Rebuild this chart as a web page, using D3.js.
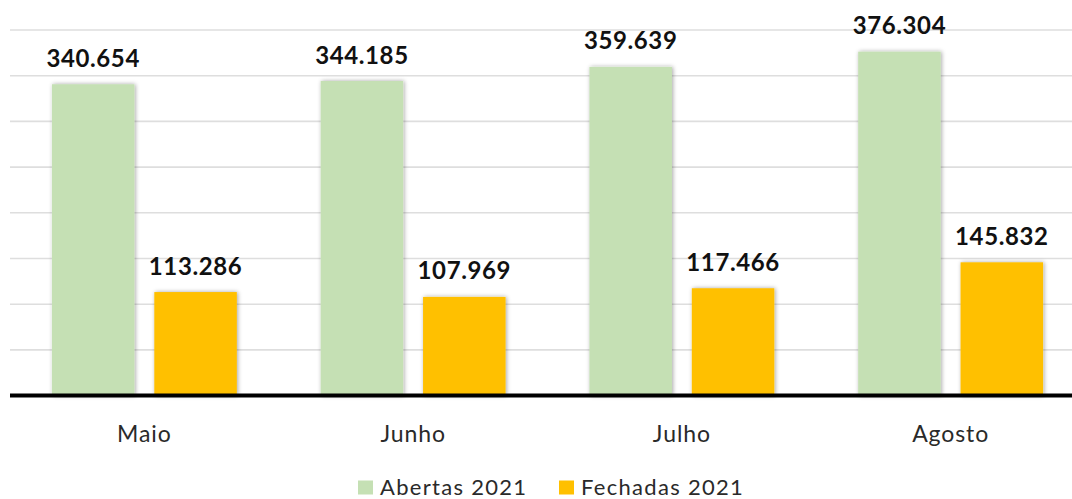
<!DOCTYPE html>
<html>
<head>
<meta charset="utf-8">
<script src="https://cdn.jsdelivr.net/npm/d3@7"></script>
<style>
  html, body { margin: 0; padding: 0; background: #fff; }
  svg { display: block; font-family: Lato, "Noto Sans", sans-serif; }
</style>
</head>
<body>
<svg id="chart" width="1072" height="499"></svg>
<script>
// data
var months = ["Maio", "Junho", "Julho", "Agosto"];
var seriesNames = ["Abertas 2021", "Fechadas 2021"];
var abertas = [340654, 344185, 359639, 376304];
var fechadas = [113286, 107969, 117466, 145832];
var yTicks = [0, 50000, 100000, 150000, 200000, 250000, 300000, 350000, 400000];

var colors = { "Abertas 2021": "#C5E0B4", "Fechadas 2021": "#FFC000" };

var rows = months.map(function(m, i) {
    return { month: m, values: [
        { key: seriesNames[0], value: abertas[i] },
        { key: seriesNames[1], value: fechadas[i] }
    ]};
});

var svg = d3.select("#chart");
var fmt = function(v) { return d3.format(",")(v).replace(/,/g, "."); };

var defs = svg.append("defs");
var f = defs.append("filter").attr("id", "shadow")
    .attr("x", "-20%").attr("y", "-10%").attr("width", "140%").attr("height", "120%");
f.append("feDropShadow")
    .attr("dx", 1).attr("dy", 0)
    .attr("stdDeviation", 2.2)
    .attr("flood-color", "#000")
    .attr("flood-opacity", 0.35);

var x0 = d3.scaleBand()
    .domain(months)
    .range([10, 1085])
    .paddingInner(0.312)
    .paddingOuter(0.156);

var x1 = d3.scaleBand()
    .domain(seriesNames)
    .range([0, x0.bandwidth()])
    .paddingInner(0.194)
    .paddingOuter(0);

var y = d3.scaleLinear()
    .domain([0, 400000])
    .range([395.6, 30]);

// gridlines
svg.append("g")
    .selectAll("line")
    .data(yTicks.slice(1))
    .enter().append("line")
    .attr("x1", 10).attr("x2", 1072)
    .attr("y1", function(d) { return y(d); })
    .attr("y2", function(d) { return y(d); })
    .attr("stroke", "#dedede")
    .attr("stroke-width", 1.6);

var group = svg.append("g")
    .selectAll("g")
    .data(rows)
    .enter().append("g")
    .attr("transform", function(d) { return "translate(" + x0(d.month) + ",0)"; });

group.selectAll("rect")
    .data(function(d) { return d.values; })
    .enter().append("rect")
    .attr("x", function(d) { return x1(d.key); })
    .attr("y", function(d) { return y(d.value); })
    .attr("width", x1.bandwidth())
    .attr("height", function(d) { return y(0) - y(d.value); })
    .attr("fill", function(d) { return colors[d.key]; })
    .attr("filter", "url(#shadow)");

group.selectAll("text.val")
    .data(function(d) { return d.values; })
    .enter().append("text")
    .attr("class", "val")
    .attr("x", function(d) { return x1(d.key) + x1.bandwidth() / 2; })
    .attr("y", function(d) { return y(d.value) - 17.5; })
    .attr("text-anchor", "middle")
    .attr("font-size", 24)
    .attr("font-weight", "bold")
    .attr("letter-spacing", 0.6)
    .attr("fill", "#111")
    .text(function(d) { return fmt(d.value); });

// baseline
svg.append("line")
    .attr("x1", 10).attr("x2", 1072)
    .attr("y1", y(0)).attr("y2", y(0))
    .attr("stroke", "#000")
    .attr("stroke-width", 4);

// month labels
svg.append("g")
    .selectAll("text")
    .data(months)
    .enter().append("text")
    .attr("x", function(d) { return x0(d) + x0.bandwidth() / 2; })
    .attr("y", 441.5)
    .attr("text-anchor", "middle")
    .attr("font-size", 23)
    .attr("letter-spacing", 0.9)
    .attr("fill", "#2a2a2a")
    .text(function(d) { return d; });

// legend
var legendX = [358, 559];
var legend = svg.append("g")
    .selectAll("g")
    .data(seriesNames)
    .enter().append("g")
    .attr("transform", function(d, i) { return "translate(" + legendX[i] + ",0)"; });

legend.append("rect")
    .attr("x", 0).attr("y", 480.5)
    .attr("width", 15).attr("height", 14)
    .attr("fill", function(d) { return colors[d]; });

legend.append("text")
    .attr("x", 22).attr("y", 494.5)
    .attr("font-size", 22)
    .attr("letter-spacing", 1.3)
    .attr("fill", "#2a2a2a")
    .text(function(d) { return d; });
</script>
</body>
</html>
